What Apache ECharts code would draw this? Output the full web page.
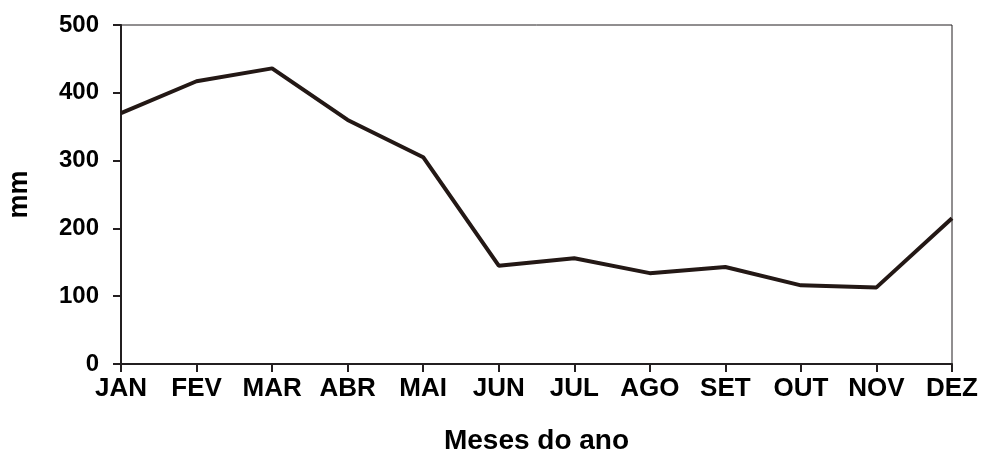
<!DOCTYPE html>
<html>
<head>
<meta charset="utf-8">
<script src="https://cdn.jsdelivr.net/npm/echarts@6/dist/echarts.min.js"></script>
<style>html,body{margin:0;padding:0;background:#fff;}#c{width:981px;height:452px;}</style>
</head>
<body>
<div id="c"></div>
<script>
const months = ['JAN','FEV','MAR','ABR','MAI','JUN','JUL','AGO','SET','OUT','NOV','DEZ'];
const rainfall = [370, 417, 436, 360, 305, 145, 156, 134, 143, 116, 113, 215];
const yTicks = [0, 100, 200, 300, 400, 500];

const font = 'Liberation Sans, Arial, sans-serif';
const chart = echarts.init(document.getElementById('c'));
chart.setOption({
  animation: false,
  backgroundColor: '#fff',
  grid: { left: 121, right: 29, top: 25, bottom: 88, show: true, borderColor: '#231f20', borderWidth: 1,
          containLabel: false, outerBoundsMode: 'none' },
  xAxis: {
    type: 'category', data: months, boundaryGap: false,
    name: 'Meses do ano', nameLocation: 'middle', nameGap: 63,
    nameTextStyle: { fontFamily: font, fontWeight: 'bold', fontSize: 28, color: '#000' },
    axisLine: { lineStyle: { color: '#231f20', width: 2 } },
    axisTick: { show: true, length: 8, alignWithLabel: true, lineStyle: { color: '#231f20', width: 2 } },
    axisLabel: { fontFamily: font, fontWeight: 'bold', fontSize: 26, color: '#000', margin: 12, interval: 0 },
    splitLine: { show: false }
  },
  yAxis: {
    type: 'value', min: yTicks[0], max: yTicks[yTicks.length - 1], interval: 100,
    name: 'mm', nameLocation: 'middle', nameGap: 88,
    nameTextStyle: { fontFamily: font, fontWeight: 'bold', fontSize: 27, color: '#000' },
    axisLine: { show: true, lineStyle: { color: '#231f20', width: 2 } },
    axisTick: { show: true, length: 8, lineStyle: { color: '#231f20', width: 2 } },
    axisLabel: { fontFamily: font, fontWeight: 'bold', fontSize: 24, color: '#000', margin: 22 },
    splitLine: { show: false }
  },
  series: [{
    type: 'line', data: rainfall, symbol: 'none',
    lineStyle: { color: '#231815', width: 4 }
  }]
});
</script>
</body>
</html>
